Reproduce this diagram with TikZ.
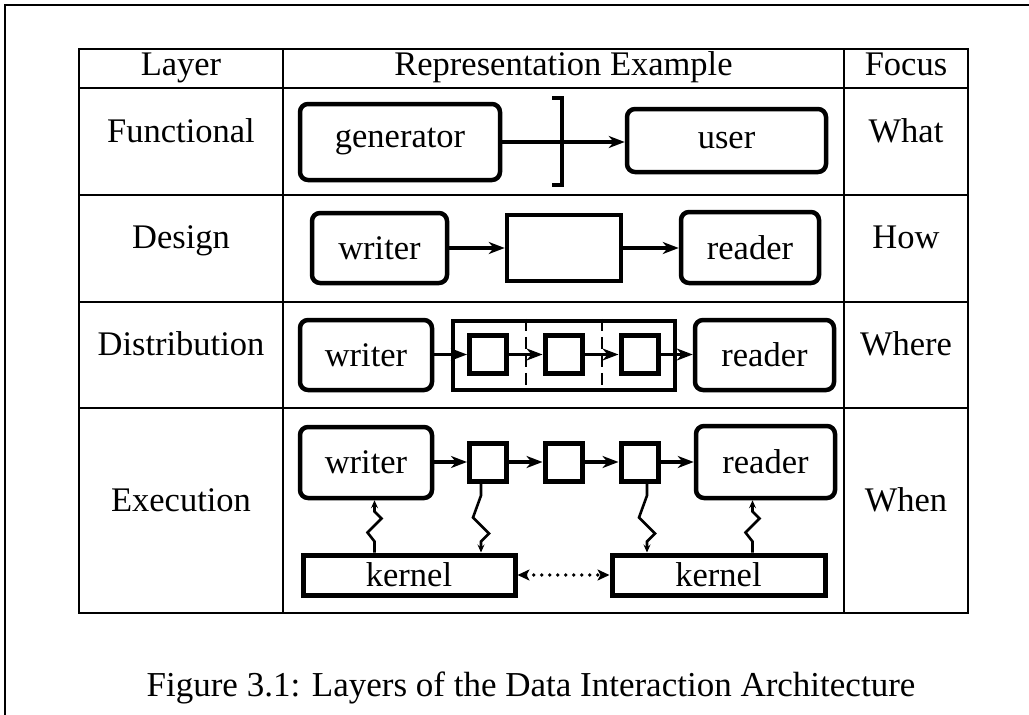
\documentclass[tikz,border=0pt]{standalone}
\usepackage{fontspec}
\setmainfont{Liberation Serif}
\usetikzlibrary{arrows.meta,calc}

\tikzset{
  rule/.style={line width=2.6pt},
  celltext/.style={font=\fontsize{34.5}{40}\selectfont, inner sep=0pt, anchor=base},
  roundbox/.style={draw, line width=4.5pt, rounded corners=8pt, inner sep=0pt,
                   font=\fontsize{34.5}{40}\selectfont},
  plainbox/.style={draw, line width=4.5pt, inner sep=0pt,
                   font=\fontsize{34.5}{40}\selectfont},
  cell/.style={draw, line width=5pt, minimum width=37pt, minimum height=38pt, inner sep=0pt},
  flow/.style={line width=3.8pt, -{Stealth[length=16pt,width=12pt,inset=5pt]}},
  bolt/.style={line width=2.6pt, -{Stealth[length=8pt,width=7pt,inset=3pt]}},
  peer/.style={line width=3.6pt, dash pattern=on 0pt off 8pt, line cap=round,
               {Stealth[length=12pt,width=11pt,inset=3pt]}-{Stealth[length=12pt,width=11pt,inset=3pt]}},
  divider/.style={line width=2pt, dash pattern=on 12pt off 6pt},
  bracket/.style={line width=4.5pt},
}

\begin{document}
\begin{tikzpicture}[x=1pt,y=-1pt]
\useasboundingbox (0,0) rectangle (1029,715);

% page frame
\draw[rule] (5,715) -- (5,5) -- (1029,5);

% table grid
\draw[rule] (79,49) rectangle (968,613);
\foreach \yy in {88,195,302,408} \draw[rule] (79,\yy) -- (968,\yy);
\foreach \xx in {283,844} \draw[rule] (\xx,49) -- (\xx,613);

% header row
\node[celltext] (hlayer) at (181,75) {Layer};
\node[celltext] (hrep) at (563.5,75) {Representation Example};
\node[celltext] (hfocus) at (906,75) {Focus};

% layer names and focus
\node[celltext] (lfun) at (181,142) {Functional};
\node[celltext] (ldes) at (181,248.5) {Design};
\node[celltext] (ldis) at (181,355) {Distribution};
\node[celltext] (lexe) at (181,511) {Execution};
\node[celltext] (ffun) at (906,142) {What};
\node[celltext] (fdes) at (906,248.5) {How};
\node[celltext] (fdis) at (906,355) {Where};
\node[celltext] (fexe) at (906,511) {When};

% functional layer
\node[roundbox, minimum width=200pt, minimum height=76pt] (gen) at (400,142) {generator};
\node[roundbox, minimum width=199pt, minimum height=63pt] (user) at (726.5,140.5) {user};
\draw[bracket] (552,98) -- (562,98) -- (562,185) -- (552,185);
\draw[flow] (gen.east) -- (gen.east -| user.west);

% design layer
\node[roundbox, minimum width=135pt, minimum height=70pt] (w2) at (379.5,248) {writer};
\node[plainbox, minimum width=114pt, minimum height=66pt] (m2) at (564,248) {};
\node[roundbox, minimum width=138pt, minimum height=71pt] (r2) at (750,247.5) {reader};
\draw[flow] (w2.east) -- (w2.east -| m2.west);
\draw[flow] (m2.east) -- (m2.east -| r2.west);

% distribution layer
\node[roundbox, minimum width=132pt, minimum height=70pt] (w3) at (366,355) {writer};
\node[plainbox, minimum width=222pt, minimum height=69pt] (c3) at (564,355.5) {};
\draw[divider] ($(c3.north west)!1/3!(c3.north east)$) -- ($(c3.south west)!1/3!(c3.south east)$);
\draw[divider] ($(c3.north west)!2/3!(c3.north east)$) -- ($(c3.south west)!2/3!(c3.south east)$);
\node[cell] (s31) at (488,354.5) {};
\node[cell] (s32) at (563.5,354.5) {};
\node[cell] (s33) at (639.5,354.5) {};
\node[roundbox, minimum width=139pt, minimum height=70pt] (r3) at (764.5,355) {reader};
\draw[flow] (w3.east |- s31) -- (s31.west);
\draw[flow] (s31.east) -- (s32.west);
\draw[flow] (s32.east) -- (s33.west);
\draw[flow] (s33.east) -- (s33.east -| r3.west);

% execution layer
\node[roundbox, minimum width=132pt, minimum height=71pt] (w4) at (366,462.5) {writer};
\node[cell] (s41) at (488,462) {};
\node[cell] (s42) at (563.5,462) {};
\node[cell] (s43) at (639.5,462) {};
\node[roundbox, minimum width=139pt, minimum height=72pt] (r4) at (765.5,462) {reader};
\node[plainbox, line width=5pt, minimum width=212pt, minimum height=40pt] (k1) at (409,575) {kernel};
\node[plainbox, line width=5pt, minimum width=213pt, minimum height=40pt] (k2) at (718.5,575) {kernel};
\draw[flow] (w4.east |- s41) -- (s41.west);
\draw[flow] (s41.east) -- (s42.west);
\draw[flow] (s42.east) -- (s43.west);
\draw[flow] (s43.east) -- (s43.east -| r4.west);
\draw[peer] (k1.east) -- (k2.west);

% signals between tasks and kernels
\coordinate (u1) at ($(k1.north west)+(74,0)$);
\coordinate (u2) at ($(k2.north west)+(143,0)$);
\coordinate (d1) at ($(s41.south)+(-7,0)$);
\coordinate (d2) at ($(s43.south)+(7.5,0)$);
\draw[bolt] (u1) -- ++(0,-11) -- ++(-7,-9) -- ++(14,-14) -- ++(-7,-7) -- (u1 |- w4.south);
\draw[bolt] (u2) -- ++(0,-11) -- ++(-7,-9) -- ++(14,-14) -- ++(-7,-7) -- (u2 |- r4.south);
\draw[bolt] (d1) -- ++(0,12) -- ++(-8,22) -- ++(16,16) -- ++(-8,8) -- (d1 |- k1.north);
\draw[bolt] (d2) -- ++(0,12) -- ++(-8,22) -- ++(16,16) -- ++(-8,8) -- (d2 |- k2.north);

% caption
\node[font=\fontsize{35}{42}\selectfont, inner sep=0pt, anchor=base] (cap) at (531,696)
  {Figure 3.1: Layers of the Data Interaction Architecture};
\end{tikzpicture}
\end{document}
